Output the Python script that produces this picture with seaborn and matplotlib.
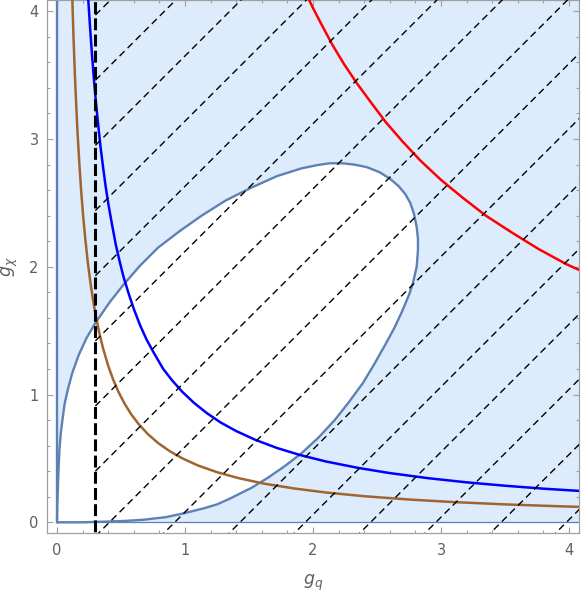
import matplotlib
matplotlib.use("Agg")
import matplotlib.pyplot as plt
from matplotlib.ticker import MultipleLocator
import seaborn as sns

# ---- data ----
# allowed-region boundary (closed curve, white interior)
ell_gq = [0.0, 0.2, 0.375, 0.52, 0.68, 0.85, 0.99, 1.15, 1.25, 1.34, 1.43, 1.52, 1.65,
          1.78, 1.91, 2.04, 2.17, 2.28, 2.39, 2.48, 2.57, 2.64, 2.70, 2.75, 2.78, 2.81,
          2.82, 2.82, 2.81, 2.79, 2.76, 2.72, 2.67, 2.60, 2.52, 2.42, 2.32, 2.23, 2.13,
          2.03, 1.91, 1.72, 1.52, 1.32, 1.13, 0.96, 0.79, 0.65, 0.52, 0.41, 0.30, 0.23,
          0.17, 0.12, 0.085, 0.06, 0.045, 0.03, 0.02, 0.014, 0.008, 0.003, 0.0]
ell_gchi = [0.0, 0.0, 0.005, 0.01, 0.02, 0.04, 0.07, 0.11, 0.14, 0.18, 0.225, 0.27, 0.35,
            0.44, 0.54, 0.66, 0.80, 0.94, 1.09, 1.24, 1.40, 1.53, 1.66, 1.78, 1.87, 2.0,
            2.13, 2.22, 2.31, 2.41, 2.50, 2.57, 2.63, 2.69, 2.74, 2.78, 2.80, 2.81, 2.81,
            2.795, 2.77, 2.71, 2.62, 2.52, 2.40, 2.28, 2.15, 2.01, 1.86, 1.72, 1.56, 1.44,
            1.31, 1.17, 1.04, 0.93, 0.82, 0.70, 0.58, 0.46, 0.30, 0.15, 0.0]

brown_gq = [0.115, 0.122, 0.13, 0.14, 0.15, 0.16, 0.175, 0.19, 0.205, 0.22, 0.24, 0.26,
            0.28, 0.30, 0.33, 0.36, 0.40, 0.44, 0.48, 0.53, 0.58, 0.64, 0.71, 0.79, 0.88,
            0.98, 1.1, 1.25, 1.42, 1.62, 1.85, 2.1, 2.4, 2.75, 3.1, 3.5, 3.9, 4.15]
brown_gchi = [4.26, 4.02, 3.77, 3.50, 3.27, 3.06, 2.80, 2.58, 2.39, 2.23, 2.04, 1.885,
              1.75, 1.633, 1.485, 1.361, 1.225, 1.114, 1.021, 0.925, 0.845, 0.766, 0.690,
              0.620, 0.557, 0.500, 0.445, 0.392, 0.345, 0.302, 0.265, 0.233, 0.204, 0.178,
              0.158, 0.140, 0.126, 0.118]

blue_gq = [0.235, 0.245, 0.26, 0.275, 0.29, 0.305, 0.32, 0.34, 0.36, 0.38, 0.40, 0.43,
           0.46, 0.49, 0.52, 0.56, 0.60, 0.65, 0.70, 0.76, 0.83, 0.90, 0.98, 1.07, 1.17,
           1.28, 1.40, 1.55, 1.72, 1.90, 2.1, 2.35, 2.6, 2.9, 3.2, 3.5, 3.8, 4.15]
blue_gchi = [4.26, 4.08, 3.85, 3.64, 3.45, 3.28, 3.13, 2.94, 2.78, 2.63, 2.50, 2.33,
             2.17, 2.04, 1.92, 1.79, 1.67, 1.54, 1.43, 1.32, 1.20, 1.11, 1.02, 0.935,
             0.855, 0.78, 0.714, 0.645, 0.581, 0.526, 0.476, 0.426, 0.385, 0.345, 0.3125,
             0.286, 0.263, 0.241]

red_gq = [1.94, 2.0, 2.07, 2.15, 2.24, 2.34, 2.45, 2.57, 2.7, 2.84, 3.0, 3.17, 3.35,
          3.55, 3.76, 3.98, 4.2]
red_gchi = [4.15, 4.025, 3.89, 3.74, 3.59, 3.44, 3.29, 3.13, 2.98, 2.83, 2.68, 2.54,
            2.40, 2.27, 2.14, 2.02, 1.92]

cut_gq = 0.30  # vertical dashed line
diag_offsets = [3.67, 3.16, 2.65, 2.14, 1.63, 1.12, 0.61, 0.10, -0.41, -0.92,
                -1.43, -1.94, -2.45, -2.96, -3.47, -3.98]

x_ticks = [0, 1, 2, 3, 4]
y_ticks = [0, 1, 2, 3, 4]

# ---- style ----
sns.set_style("ticks")
plt.rcParams['font.family'] = ['DejaVu Sans']

fill_c = '#DCECFC'
edge_c = '#5E81B5'
frame_c = '#A0A0A0'
text_c = '#606060'

fig = plt.figure(figsize=(5.81, 5.93), dpi=100)
ax = fig.add_axes([47 / 581, 60 / 593, 532 / 581, 533 / 593])

# shaded region: quadrant minus the closed white region
ax.fill_between([0, 4.4], [0, 0], [4.4, 4.4], color=fill_c, lw=0, zorder=0)
ax.fill(ell_gq, ell_gchi, color='white', lw=0, zorder=1)
ax.plot(ell_gq, ell_gchi, color=edge_c, lw=1.7, zorder=2, solid_joinstyle='round')
ax.plot([0, 0], [0.015, 4.4], color=edge_c, lw=1.7, zorder=2)
ax.plot([0.0, 4.4], [0, 0], color=edge_c, lw=0.9, zorder=2)

# curves
sns.lineplot(x=brown_gq, y=brown_gchi, ax=ax, color='#A0652F', lw=1.8,
             estimator=None, sort=False, zorder=3)
sns.lineplot(x=blue_gq, y=blue_gchi, ax=ax, color='#0000FF', lw=1.8,
             estimator=None, sort=False, zorder=3)
sns.lineplot(x=red_gq, y=red_gchi, ax=ax, color='#FF0000', lw=1.8,
             estimator=None, sort=False, zorder=3)

# dashed diagonals starting at the vertical cut
for b in diag_offsets:
    ax.plot([cut_gq, 4.4], [cut_gq + b, 4.4 + b], color='black', lw=1.0,
            dashes=(5.0, 3.2), zorder=4, dash_capstyle='butt')
ax.plot([cut_gq, cut_gq], [-0.2, 4.4], color='black', lw=2.2,
        dashes=(3.9, 1.4), zorder=5, dash_capstyle='butt')

ax.set_xlim(-0.078, 4.078)
ax.set_ylim(-0.084, 4.088)
ax.set_xticks(x_ticks)
ax.set_yticks(y_ticks)
ax.xaxis.set_minor_locator(MultipleLocator(0.2))
ax.yaxis.set_minor_locator(MultipleLocator(0.2))

for s in ax.spines.values():
    s.set_visible(True)
    s.set_color(frame_c)
    s.set_linewidth(0.9)

ax.tick_params(which='both', direction='in', top=True, right=True,
               color=frame_c, labelcolor=text_c, labelsize=10.5, width=0.8)
ax.tick_params(which='major', length=4.5)
ax.tick_params(which='minor', length=2.5)
ax.tick_params(axis='x', which='major', pad=7)
ax.tick_params(axis='y', which='major', pad=6)

ax.set_xlabel(r'$g_q$', color=text_c, fontsize=12.5, labelpad=11)
ax.set_ylabel(r'$g_\chi$', color=text_c, fontsize=12.5, labelpad=7)

fig.savefig('out.png', dpi=100)
